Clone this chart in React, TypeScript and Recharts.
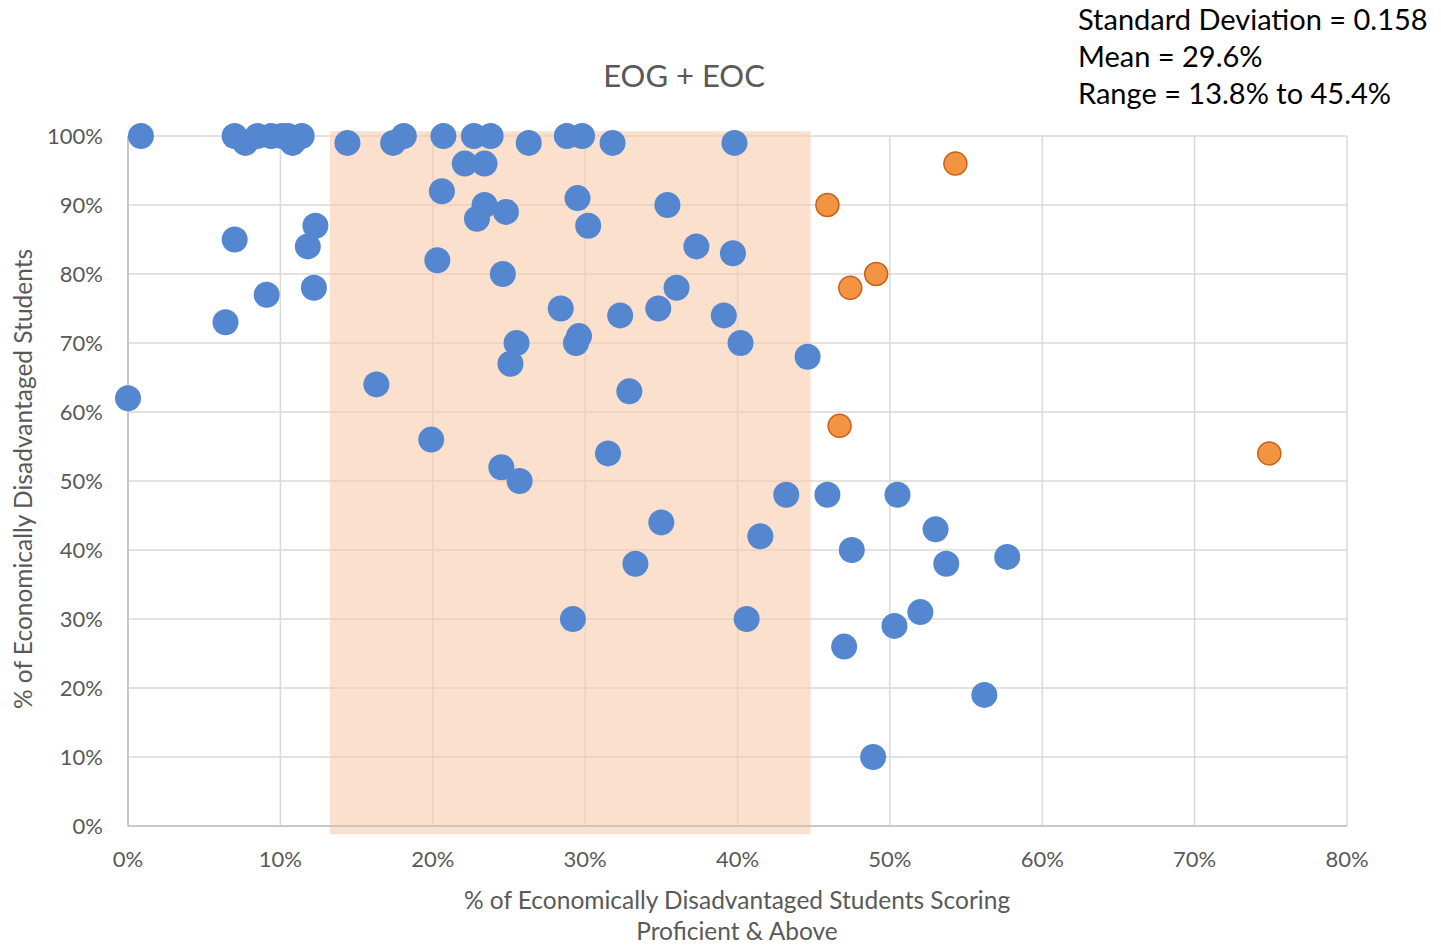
import React from 'react';
import { ScatterChart, Scatter, XAxis, YAxis, CartesianGrid, ReferenceArea } from 'recharts';

// % of economically disadvantaged students scoring proficient & above (x) vs % economically disadvantaged (y)
const blueX = [
  0.85, 7.0, 7.7, 8.5, 9.4, 10.1, 10.5, 10.8, 11.4, 14.4, 17.4, 18.1, 20.7, 22.7, 23.8,
  26.3, 28.8, 29.8, 31.8, 39.8, 22.1, 23.4, 20.6, 23.4, 22.9, 24.8, 12.3, 11.8, 7.0, 20.3,
  24.6, 12.2, 9.1, 29.5, 30.2, 35.4, 37.3, 39.7, 36.0, 28.4, 32.3, 34.8, 39.1, 29.6, 29.4,
  25.5, 25.1, 40.2, 44.6, 16.3, 32.9, 0.0, 6.4, 19.9, 31.5, 24.5, 25.7, 35.0, 33.3, 41.5,
  43.2, 45.9, 50.5, 47.5, 53.0, 53.7, 57.7, 52.0, 50.3, 47.0, 29.2, 40.6, 56.2, 48.9,
];
const blueY = [
  100, 100, 99, 100, 100, 100, 100, 99, 100, 99, 99, 100, 100, 100, 100,
  99, 100, 100, 99, 99, 96, 96, 92, 90, 88, 89, 87, 84, 85, 82,
  80, 78, 77, 91, 87, 90, 84, 83, 78, 75, 74, 75, 74, 71, 70,
  70, 67, 70, 68, 64, 63, 62, 73, 56, 54, 52, 50, 44, 38, 42,
  48, 48, 48, 40, 43, 38, 39, 31, 29, 26, 30, 30, 19, 10,
];
const orangeX = [54.3, 45.9, 49.1, 47.4, 46.7, 74.9];
const orangeY = [96, 90, 80, 78, 58, 54];

const xTicks = [0, 10, 20, 30, 40, 50, 60, 70, 80];
const yTicks = [0, 10, 20, 30, 40, 50, 60, 70, 80, 90, 100];

const blueData = blueX.map((x, i) => ({ x, y: blueY[i] }));
const orangeData = orangeX.map((x, i) => ({ x, y: orangeY[i] }));

const FONT = 'Lato, "Open Sans", sans-serif';
const GREY = '#595959';

const BlueDot = (props: any) => <circle cx={props.cx} cy={props.cy} r={13} fill="#5487cf" />;
const OrangeDot = (props: any) => (
  <circle cx={props.cx} cy={props.cy} r={11.5} fill="#f29441" stroke="#c8601a" strokeWidth={1.5} />
);

export default function App() {
  return (
    <div style={{ position: 'absolute', left: 0, top: 0, width: 1441, height: 945, background: '#fff', fontFamily: FONT }}>
      <ScatterChart width={1441} height={945} margin={{ top: 136, right: 94, bottom: 0, left: 0 }}>
        <CartesianGrid stroke="#d9d9d9" strokeWidth={1.5} />
        <ReferenceArea x1={13.25} x2={44.8} y1={-1.2} y2={100.7} fill="#f8cbad" fillOpacity={0.6} stroke="none" ifOverflow="visible" />
        <XAxis
          type="number"
          dataKey="x"
          domain={[0, 80]}
          ticks={xTicks}
          tickFormatter={(v) => `${v}%`}
          height={119}
          tickSize={0}
          tickMargin={25}
          axisLine={{ stroke: '#bfbfbf', strokeWidth: 1.5 }}
          tick={{ fill: GREY, fontSize: 22, fontFamily: FONT }}
        />
        <YAxis
          type="number"
          dataKey="y"
          domain={[0, 100]}
          ticks={yTicks}
          tickFormatter={(v) => `${v}%`}
          width={128}
          tickSize={0}
          tickMargin={25}
          axisLine={{ stroke: '#bfbfbf', strokeWidth: 1.5 }}
          tick={{ fill: GREY, fontSize: 22, fontFamily: FONT }}
        />
        <Scatter data={blueData} shape={BlueDot} isAnimationActive={false} />
        <Scatter data={orangeData} shape={OrangeDot} isAnimationActive={false} />
      </ScatterChart>

      <div style={{ position: 'absolute', left: 484, width: 400, top: 56, textAlign: 'center', fontSize: 31, color: GREY }}>
        EOG + EOC
      </div>
      <div style={{ position: 'absolute', left: 1078, top: 0, fontSize: 29, lineHeight: '37px', color: '#000' }}>
        <div>Standard Deviation = 0.158</div>
        <div>Mean = 29.6%</div>
        <div>Range = 13.8% to 45.4%</div>
      </div>
      <div style={{ position: 'absolute', left: 337, width: 800, top: 884, textAlign: 'center', fontSize: 24.5, lineHeight: '31px', color: GREY }}>
        <div>% of Economically Disadvantaged Students Scoring</div>
        <div>Proficient &amp; Above</div>
      </div>
      <div
        style={{
          position: 'absolute',
          left: 22,
          top: 479,
          transform: 'translate(-50%, -50%) rotate(-90deg)',
          whiteSpace: 'nowrap',
          fontSize: 24.5,
          color: GREY,
        }}
      >
        % of Economically Disadvantaged Students
      </div>
    </div>
  );
}
